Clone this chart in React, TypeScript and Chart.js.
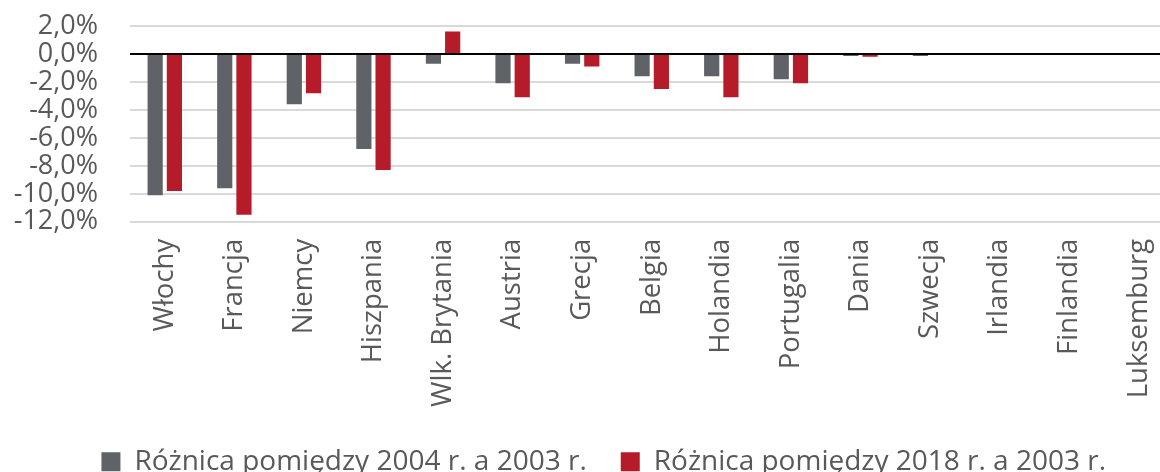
import React, { useEffect, useRef } from "react";
import { Chart, registerables } from "chart.js";

Chart.register(...registerables);

const categories = [
  "Włochy", "Francja", "Niemcy", "Hiszpania", "Wlk. Brytania", "Austria", "Grecja",
  "Belgia", "Holandia", "Portugalia", "Dania", "Szwecja", "Irlandia", "Finlandia", "Luksemburg",
];
const diff2004 = [-10.1, -9.6, -3.6, -6.8, -0.7, -2.1, -0.7, -1.6, -1.6, -1.8, -0.15, -0.15, 0, 0, 0];
const diff2018 = [-9.8, -11.5, -2.8, -8.3, 1.6, -3.1, -0.9, -2.5, -3.1, -2.1, -0.2, -0.08, 0, 0, 0];
const seriesLabels = ["Różnica pomiędzy 2004 r. a 2003 r.", "Różnica pomiędzy 2018 r. a 2003 r."];
const yMin = -12;
const yMax = 2;
const yStep = 2;

const FONT = "'Open Sans', sans-serif";
const TEXT = "#595959";

const legendShift = {
  id: "legendShift",
  afterLayout(chart: any) {
    if (chart.legend) chart.legend.left = 34;
  },
};

export default function App() {
  const ref = useRef<HTMLCanvasElement>(null);
  useEffect(() => {
    if (!ref.current) return;
    const chart = new Chart(ref.current, {
      type: "bar",
      data: {
        labels: categories,
        datasets: [
          { label: seriesLabels[0], data: diff2004, backgroundColor: "#5f6367", borderWidth: 0 },
          { label: seriesLabels[1], data: diff2018, backgroundColor: "#b61b29", borderWidth: 0 },
        ],
      },
      plugins: [legendShift],
      options: {
        responsive: false,
        animation: false,
        layout: { padding: { left: 0, right: 34.5, top: 26, bottom: -13.8 } },
        datasets: { bar: { categoryPercentage: 0.553, barPercentage: 0.79 } },
        plugins: {
          tooltip: { enabled: false },
          legend: {
            position: "bottom",
            labels: {
              font: { family: FONT, size: 28 },
              color: TEXT,
              boxWidth: 19,
              boxHeight: 19,
              padding: 34,
            },
          },
        },
        scales: {
          x: {
            afterFit: (s: any) => { s.height = 192; },
            grid: { display: false, drawTicks: false },
            border: { display: false },
            ticks: {
              font: { family: FONT, size: 27.5 },
              color: TEXT,
              minRotation: 90,
              maxRotation: 90,
              padding: 17,
              autoSkip: false,
            },
          },
          y: {
            min: yMin,
            max: yMax,
            afterFit: (s: any) => { s.width = 130; },
            grid: {
              drawTicks: true,
              tickLength: 32,
              tickColor: "rgba(0,0,0,0)",
              lineWidth: 2,
              color: (ctx: any) => (ctx.tick && ctx.tick.value === 0 ? "#000000" : "#d9d9d9"),
            },
            border: { display: false },
            ticks: {
              stepSize: yStep,
              autoSkip: false,
              font: { family: FONT, size: 27 },
              color: TEXT,
              padding: 0,
              callback: (v: any) => Number(v).toFixed(1).replace(".", ",") + "%",
            },
          },
        },
      },
    });
    return () => chart.destroy();
  }, []);
  return (
    <div style={{ position: "fixed", left: 0, top: 0, width: 1160, height: 472, overflow: "hidden", background: "#fff" }}>
      <canvas ref={ref} width={1208} height={472} style={{ display: "block" }} />
    </div>
  );
}
